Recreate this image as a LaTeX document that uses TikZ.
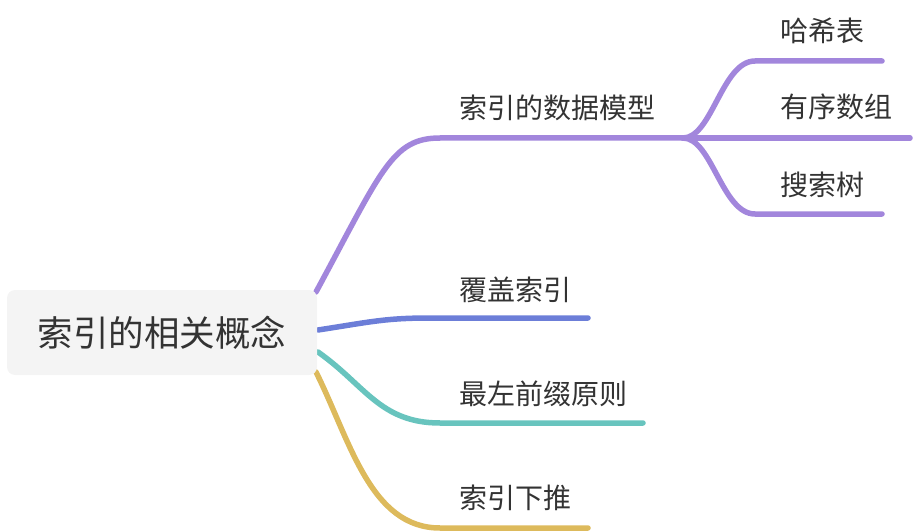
\documentclass[tikz,border=0pt]{standalone}
\usepackage{fontspec}
\newfontfamily\cjk{Noto Sans CJK SC}
\definecolor{cpurple}{RGB}{162,134,220}
\definecolor{cblue}{RGB}{108,126,216}
\definecolor{cteal}{RGB}{104,196,190}
\definecolor{cgold}{RGB}{221,186,92}
\definecolor{ctext}{RGB}{51,51,51}
\definecolor{cbox}{RGB}{244,244,244}
\tikzset{
  branch/.style={line width=5.5pt, line cap=round},
  lbl/.style={anchor=west, inner sep=0pt, text=ctext, font=\cjk\fontsize{28}{31}\selectfont},
  rootbox/.style={fill=cbox, rounded corners=8pt, minimum width=310pt, minimum height=85pt, inner sep=0pt, text=ctext, font=\cjk\fontsize{35.5}{40}\selectfont}
}
\begin{document}
\begin{tikzpicture}[x=1pt,y=-1pt]
\useasboundingbox (0,0) rectangle (916,532);
% coordinates
\coordinate (pS) at (316,292);
\coordinate (pE) at (440,138);
\coordinate (fork) at (683,138);
\coordinate (h1S) at (755,61);
\coordinate (h1E) at (882,61);
\coordinate (h2E) at (910,138);
\coordinate (h3S) at (755,214);
\coordinate (h3E) at (882,214);
\coordinate (bS) at (318,330);
\coordinate (bM) at (430,318);
\coordinate (bE) at (588,318);
\coordinate (tS) at (318,352);
\coordinate (tM) at (440,423);
\coordinate (tE) at (643,423);
\coordinate (gS) at (316,372);
\coordinate (gM) at (440,528);
\coordinate (gE) at (588,528);
% connectors
\draw[branch, cpurple] (pS) .. controls (382,170) and (392,138) .. (pE) -- (fork);
\draw[branch, cpurple] (fork) .. controls (712,138) and (722,61) .. (h1S) -- (h1E);
\draw[branch, cpurple] (fork) -- (h2E);
\draw[branch, cpurple] (fork) .. controls (712,138) and (722,214) .. (h3S) -- (h3E);
\draw[branch, cblue] (bS) .. controls (370,322) and (385,318) .. (bM) -- (bE);
\draw[branch, cteal] (tS) .. controls (365,385) and (380,423) .. (tM) -- (tE);
\draw[branch, cgold] (gS) .. controls (350,440) and (370,528) .. (gM) -- (gE);
% root
\node[rootbox] (root) at (162,332.5) {索引的相关概念};
% labels
\node[lbl] (m) at (459,108) {索引的数据模型};
\node[lbl] (h1) at (780,31) {哈希表};
\node[lbl] (h2) at (780,107) {有序数组};
\node[lbl] (h3) at (780,185) {搜索树};
\node[lbl] (b) at (459,290) {覆盖索引};
\node[lbl] (t) at (459,394) {最左前缀原则};
\node[lbl] (g) at (459,498) {索引下推};
\end{tikzpicture}
\end{document}
